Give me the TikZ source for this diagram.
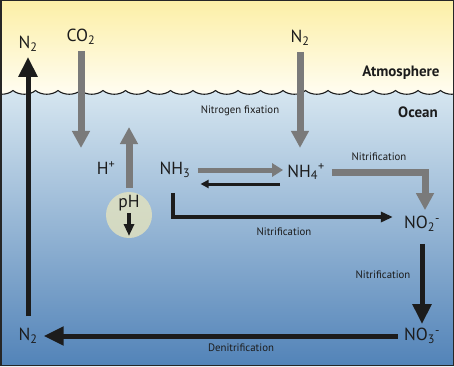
\documentclass[tikz,border=0pt]{standalone}
\usepackage{fontspec}
\setmainfont{PT Sans}
\usepackage{tikz}
\usetikzlibrary{arrows.meta, positioning, calc}
\definecolor{arrowgrey}{HTML}{7A7A7A}
\definecolor{arrowblack}{HTML}{1C1C1C}
\definecolor{skytop}{HTML}{FCEFA6}
\definecolor{skybottom}{HTML}{FFFDF3}
\definecolor{seatop}{HTML}{D6E6F0}
\definecolor{seabottom}{HTML}{5283B8}
\definecolor{phglow}{HTML}{E4E3BE}

\begin{document}
\begin{tikzpicture}[x=1pt, y=-1pt,
  chem/.style={font=\fontsize{17.5}{20}\selectfont, text=arrowblack, inner sep=2pt},
  lbl/.style={font=\fontsize{10.8}{12}\selectfont, text=arrowblack},
  zone/.style={font=\fontsize{15}{17}\selectfont\bfseries, text=arrowblack},
  greyarr/.style={-{Triangle[length=17pt,width=17pt]}, line width=7pt, arrowgrey},
  greyarrsmall/.style={-{Triangle[length=11pt,width=13pt]}, line width=5pt, arrowgrey},
  blackarr/.style={-{Triangle[length=20pt,width=18pt]}, line width=5pt, arrowblack},
  midarr/.style={-{Triangle[length=12pt,width=10pt]}, line width=4pt, arrowblack},
  backarr/.style={-{Triangle[length=8pt,width=8pt]}, line width=3pt, arrowblack}
]
  \useasboundingbox (0,0) rectangle (454,366);
  \shade[top color=skytop, bottom color=skybottom] (0,0) rectangle (454,96);
  \begin{scope}
    \clip (0,0) rectangle (454,366);
    \shade[top color=seatop, bottom color=seabottom] (-9.5,90.5)
      \foreach \i in {0,...,20} { .. controls +(6,5) and +(-6,5) .. ++(22.5,0) }
      -- (463,366) -- (-9.5,366) -- cycle;
    \draw[line width=1.1pt, arrowblack] (-9.5,90.5)
      \foreach \i in {0,...,20} { .. controls +(6,5) and +(-6,5) .. ++(22.5,0) };
  \end{scope}
  \draw[line width=1.5pt, black!85] (0.75,0.75) rectangle (453.25,365.25);

  \node[zone] (atmosphere) at (401,73) {Atmosphere};
  \node[zone] (ocean) at (418,112) {Ocean};

  \node[chem] (n2top) at (28,44) {N\textsubscript{2}};
  \node[chem] (co2) at (81,37) {CO\textsubscript{2}};
  \node[chem] (n2fix) at (300,38) {N\textsubscript{2}};
  \node[chem] (hplus) at (106,168) {H\textsuperscript{+}};
  \node[chem] (nh3) at (175,170) {NH\textsubscript{3}};
  \node[chem] (nh4) at (306,172) {NH\textsubscript{4}\textsuperscript{+}};
  \node[chem] (no2) at (422,224) {NO\textsubscript{2}\textsuperscript{-}};
  \node[chem] (no3) at (422,336) {NO\textsubscript{3}\textsuperscript{-}};
  \node[chem] (n2bot) at (28,336) {N\textsubscript{2}};
  \node[circle, fill=phglow, fill opacity=0.8, minimum size=46pt] (ph) at (129,215) {};
  \node[chem] (phtxt) at (129,203) {pH};

  \coordinate (co2end) at (81,148);
  \coordinate (hup) at (129,127);
  \coordinate (phdown) at (129,236);

  \node[lbl] (fixlbl) at (240,111) {Nitrogen fixation};
  \node[lbl] (nitrlbla) at (379,157) {Nitrification};
  \node[lbl] (nitrlblb) at (284,232) {Nitrification};
  \node[lbl] (nitrlblc) at (383,275) {Nitrification};
  \node[lbl] (denitlbl) at (241,348) {Denitrification};

  \draw[greyarr, shorten <=4pt] (co2) -- (co2end);
  \draw[greyarr, shorten <=4pt, shorten >=14pt] (n2fix) -- (n2fix |- nh4.north);
  \draw[greyarr, shorten <=4pt] (ph.north) -- (hup);
  \draw[midarr] (phtxt) -- (phdown);
  \draw[greyarrsmall, shorten <=5pt, shorten >=2pt] (nh3.east) -- (nh3.east -| nh4.west);
  \draw[backarr, shorten <=5pt, shorten >=8pt] ([yshift=-12pt]nh4.west) -- ([yshift=-12pt]nh4.west -| nh3.east);
  \draw[midarr, shorten <=13pt, shorten >=9pt] ([xshift=-2pt]nh3.south) |- ([yshift=7pt]no2.west);
  \draw[greyarr, shorten <=5pt, shorten >=4pt] (nh4.east) -| ([xshift=3pt]no2.north);
  \draw[blackarr, shorten <=10pt, shorten >=2pt] (no2) -- (no3);
  \draw[blackarr, shorten <=4pt, shorten >=4pt] (no3) -- (n2bot);
  \draw[blackarr, shorten <=10pt, shorten >=3pt] (n2bot) -- (n2top);
\end{tikzpicture}
\end{document}
